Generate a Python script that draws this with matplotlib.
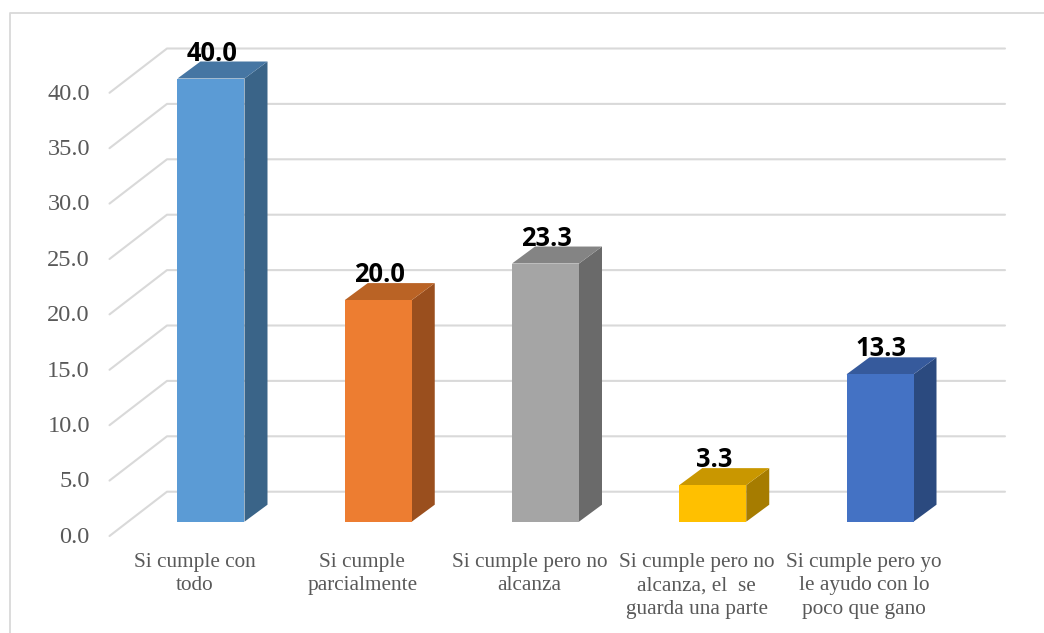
import numpy as np
import matplotlib
matplotlib.use("Agg")
import matplotlib.pyplot as plt
from matplotlib.lines import Line2D
from matplotlib.patches import Polygon

categories = [
    "Si cumple con\ntodo",
    "Si cumple\nparcialmente",
    "Si cumple pero no\nalcanza",
    "Si cumple pero no\nalcanza, el  se\nguarda una parte",
    "Si cumple pero yo\nle ayudo con lo\npoco que gano",
]
values = [40.0, 20.0, 23.3, 3.3, 13.3]
yticks = [0, 5, 10, 15, 20, 25, 30, 35, 40]

front_colors = ["#5B9BD5", "#ED7D31", "#A5A5A5", "#FFC000", "#4472C4"]
top_colors = ["#4676A3", "#BA6325", "#848484", "#C99700", "#365A9C"]
side_colors = ["#3A6488", "#9A4F1E", "#6A6A6A", "#A67C00", "#2B4A7F"]

GRID = "#D9D9D9"
TEXT = "#595959"

W, H = 1044, 633
X_UNIT = 167.25   # px per category
Y_UNIT = 11.08    # px per value unit
X0, Y0 = 211.0, 521.7   # px of category 0 / value 0

fig = plt.figure(figsize=(W / 100, H / 100), dpi=100)
ax = fig.add_axes([0, 0, 1, 1])
ax.set_xlim(-X0 / X_UNIT, (W - X0) / X_UNIT)
ax.set_ylim((Y0 - H) / Y_UNIT, Y0 / Y_UNIT)
ax.axis("off")

# chart area border, only left and top are visible
fig.add_artist(Line2D([9.5 / W, 9.5 / W, 1], [0, 1 - 13 / H, 1 - 13 / H], color=GRID, lw=1.3))

# fake 3d sizes
half_w = 33.5 / X_UNIT
depth_x = 23 / X_UNIT
depth_y = 17 / Y_UNIT

wall_x = -44 / X_UNIT
wall_y = 30 / Y_UNIT
side_x = -101.5 / X_UNIT
side_y = -14.3 / Y_UNIT
right_x = 794 / X_UNIT

for t in yticks:
    ax.plot([side_x, wall_x, right_x], [t + side_y, t + wall_y, t + wall_y],
            color=GRID, lw=1.5, zorder=1, solid_capstyle="round")
    ax.text(-121 / X_UNIT, t - 1.4, f"{t:.1f}", ha="right", va="center",
            family="Liberation Serif", fontsize=17.6, color=TEXT)

for i, v in enumerate(values):
    l, r = i - half_w, i + half_w
    ax.add_patch(Polygon([(r, 0), (r + depth_x, depth_y), (r + depth_x, v + depth_y), (r, v)],
                         fc=side_colors[i], ec="none", zorder=2))
    ax.add_patch(Polygon([(l, v), (r, v), (r + depth_x, v + depth_y), (l + depth_x, v + depth_y)],
                         fc=top_colors[i], ec="none", zorder=2))
    ax.add_patch(Polygon([(l, 0), (r, 0), (r, v), (l, v)],
                         fc=front_colors[i], ec="none", zorder=3))
    ax.text(i + 1 / X_UNIT, v + 2.3, f"{v:.1f}", ha="center", va="center",
            family="Open Sans", fontweight="bold", fontsize=18.4, color="black", zorder=5)
    ax.text(i - 16 / X_UNIT, -2.86, categories[i], ha="center", va="top",
            family="Liberation Serif", fontsize=15.3, color=TEXT, linespacing=1.29)

fig.savefig("out.png", dpi=100)
